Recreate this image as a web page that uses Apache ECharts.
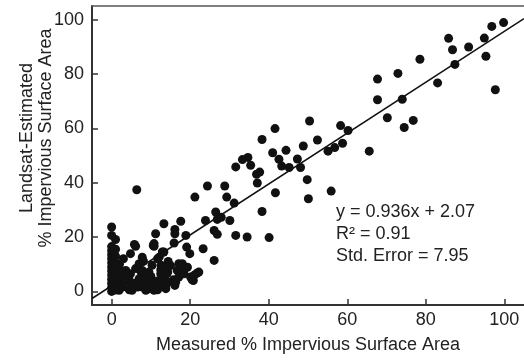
<!DOCTYPE html>
<html>
<head>
<meta charset="utf-8">
<script src="https://cdn.jsdelivr.net/npm/echarts@6/dist/echarts.min.js"></script>
<style>
html,body{margin:0;padding:0;background:#fff;}
#chart{width:524px;height:363px;}
</style>
</head>
<body>
<div id="chart"></div>
<script>
// Measured % impervious (x) and Landsat-estimated % impervious (y)
const measured = [
  99.8, 96.8, 94.9, 95.3, 97.7, 90.9, 86.8, 85.8, 87.4, 83.0, 78.5, 72.9, 67.7, 67.7, 74.0, 70.2, 76.8, 74.5, 65.6,
  50.4, 58.3, 60.2, 41.6, 38.3, 52.4, 48.8, 58.8, 56.8, 55.1, 44.4, 41.0, 42.6, 47.3, 43.3, 45.2, 48.1, 34.7, 33.3,
  35.4, 31.6, 37.7, 36.9, 37.1, 49.8, 41.7, 50.1, 55.9, 38.3, 31.2,
  28.8, 24.4, 29.3, 21.2, 26.5, 26.9, 23.9, 26.1, 27.9, 30.1, 31.6, 34.5, 40.1, 17.6, 13.3, 16.1, 16.1, 18.9, 11.2,
  6.4, 0, 0, 1.0, 15.9, 19.1, 19.9, 23.3, 26.1, 10.8, 13.3, 12.1, 6.1, 4.8, 7.8, 7.0, 17.1, 18.7, 17.1, 21.7, 20.8, 26.9,
  5.8, 10.6, 8.1, 13.0, 11.7, 14.4, 12.6, 3.6, 1.9, 7.5, 7.9, 10.0, 11.7, 13.4, 14.3, 2.8, 1.1, 4.5, 6.6, 9.6, 11.7, 5.3, 2.4,
  18.0, 18.6, 16.7, 21.0, 20.5, 17.1, 15.7, 14.0, 14.0, 16.1,
  10.8, 12.9, 10.3, 13.8, 19.3, 22.2, 18.4, 20.1, 16.3, 12.9, 12.1, 9.5, 7.0, 7.8, 5.2, 4.4, 3.1, 2.7, 1.9, 5.2, 8.7, 10.8,
  6.1, 4.8, 7.8, 9.5, 12.5, 14.2, 13.8, 1.9,
  3.5, 6.0, 8.5, 10.5, 12.5, 15.0, 2.0, 3.0,
  0, 0, 0, 0, 0, 0, 0, 0, 0, 0, 0, 0,
  1, 1, 1, 1, 1, 1, 1
];
const estimated = [
  98.9, 97.5, 93.2, 86.5, 74.2, 89.9, 88.9, 93.1, 83.5, 76.7, 85.4, 80.2, 78.1, 70.5, 70.7, 63.9, 62.9, 60.3, 51.6,
  62.7, 61.0, 59.2, 59.9, 55.9, 55.7, 53.5, 54.5, 52.9, 51.6, 51.9, 51.0, 48.6, 48.7, 46.1, 45.6, 45.6, 49.3, 48.5,
  46.4, 45.8, 43.9, 43.1, 39.9, 41.1, 36.3, 34.1, 36.9, 29.4, 32.5,
  38.8, 38.8, 34.7, 34.7, 29.2, 26.5, 26.1, 22.4, 27.3, 26.1, 20.6, 20.0, 19.8, 25.8, 24.9, 22.8, 21.2, 20.6, 21.2,
  37.4, 23.7, 20.6, 19.1, 17.8, 16.3, 13.9, 15.7, 11.4, 16.6, 14.5, 12.6, 16.6, 13.9, 12.6, 10.2, 10.2, 8.7, 7.7, 6.7, 4.0, 21.0,
  17.3, 16.9, 11.1, 14.4, 12.0, 11.0, 9.6, 7.7, 6.5, 7.1, 4.0, 5.5, 3.8, 4.7, 7.1, 1.6, 1.0, 0.6, 1.6, 1.0, 0.6, 2.8, 4.3,
  10.2, 8.4, 7.7, 5.9, 4.3, 5.3, 4.3, 6.5, 2.8, 2.2,
  17.6, 14.5, 9.6, 8.9, 8.9, 7.1, 6.5, 5.3, 3.4, 4.7, 2.2, 3.4, 4.7, 1.6, 2.2, 4.7, 5.9, 2.2, 0.4, 0.4, 0.4, 0.4,
  8.4, 6.5, 7.7, 7.1, 6.5, 3.4, 1.0, 8.4,
  3.5, 3.0, 5.5, 2.5, 8.0, 9.5, 10.0, 12.0,
  0, 1.5, 3, 4.5, 6, 7.5, 9, 10.5, 12, 13.5, 15, 16.5,
  0.5, 3, 5.5, 8, 10.5, 13, 15.5
];
const tickValues = [0, 20, 40, 60, 80, 100];
const axisMin = -5, axisMax = 105;
const slope = 0.936, intercept = 2.07;
const statLines = ['y = 0.936x + 2.07', 'R\u00B2 = 0.91', 'Std. Error = 7.95'];
const xTitle = 'Measured % Impervious Surface Area';
const yTitle = ['Landsat-Estimated', '% Impervious Surface Area'];

const points = measured.map((x, i) => [x, estimated[i]]);
const fitLine = [axisMin, axisMax].map(x => [x, slope * x + intercept]);

const FONT = '"Liberation Sans", Arial, sans-serif';
const TXT = '#222';
const AX = '#333';

const chart = echarts.init(document.getElementById('chart'), null, {renderer: 'canvas'});
chart.setOption({
  animation: false,
  backgroundColor: '#fff',
  grid: {left: 92, right: 0, top: 6, bottom: 58, containLabel: false},
  xAxis: [{
    type: 'value', min: axisMin, max: axisMax,
    axisLine: {show: true, onZero: false, lineStyle: {color: AX, width: 2}},
    axisTick: {show: true, inside: true, length: 6, customValues: tickValues, lineStyle: {color: AX, width: 1.5}},
    axisLabel: {customValues: tickValues, color: TXT, fontFamily: FONT, fontSize: 18, margin: 6},
    splitLine: {show: false},
    name: xTitle, nameLocation: 'middle', nameGap: 31,
    nameTextStyle: {color: TXT, fontFamily: FONT, fontSize: 18}
  }, {
    type: 'value', position: 'top', min: axisMin, max: axisMax,
    axisLine: {show: true, onZero: false, lineStyle: {color: '#555', width: 1.5}},
    axisTick: {show: false}, axisLabel: {show: false}, splitLine: {show: false}
  }],
  yAxis: {
    type: 'value', min: axisMin, max: axisMax,
    axisLine: {show: true, onZero: false, lineStyle: {color: AX, width: 2}},
    axisTick: {show: true, inside: true, length: 6, customValues: tickValues, lineStyle: {color: AX, width: 1.5}},
    axisLabel: {customValues: tickValues, color: TXT, fontFamily: FONT, fontSize: 18, margin: 8},
    splitLine: {show: false}
  },
  graphic: [{
    type: 'text', x: 37, y: 138, rotation: Math.PI / 2,
    style: {text: yTitle.join('\n'), fill: TXT, font: '18px ' + FONT, align: 'center', verticalAlign: 'middle', lineHeight: 19}
  }, {
    type: 'text', left: 336, top: 201,
    style: {text: statLines.join('\n'), fill: TXT, font: '18px ' + FONT, lineHeight: 22}
  }],
  series: [{
    type: 'scatter', data: points, symbolSize: 9,
    itemStyle: {color: '#111', opacity: 1}
  }, {
    type: 'line', data: fitLine, symbol: 'none', silent: true,
    lineStyle: {color: '#111', width: 1.5}
  }]
});
</script>
</body>
</html>
